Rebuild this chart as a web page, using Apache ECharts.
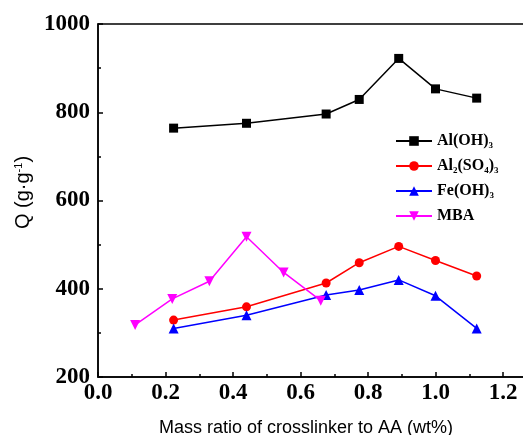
<!DOCTYPE html>
<html>
<head>
<meta charset="utf-8">
<script src="https://cdn.jsdelivr.net/npm/echarts@6/dist/echarts.min.js"></script>
<style>
  html, body { margin: 0; padding: 0; background: #fff; }
  #chart { width: 523px; height: 435px; }
</style>
</head>
<body>
<div id="chart"></div>
<script>
// 数据
var seriesNames = ["Al(OH)3", "Al2(SO4)3", "Fe(OH)3", "MBA"];
var xMetal = [0.224, 0.44, 0.676, 0.774, 0.891, 1.0, 1.122];
var alOH = [764, 775, 796, 829, 922, 853, 832];
var alSO4 = [329, 359, 413, 459, 496, 464, 429];
var feOH = [310, 340, 386, 397, 420, 384, 310];
var xMBA = [0.11, 0.22, 0.33, 0.44, 0.55, 0.66];
var mba = [318, 377, 417, 518, 437, 373];

function pairs(xs, ys) {
  return xs.map(function (x, i) { return [x, ys[i]]; });
}

var legendLabels = {
  "Al(OH)3": "{b|Al(OH)}{s|3}",
  "Al2(SO4)3": "{b|Al}{s|2}{b|(SO}{s|4}{b|)}{s|3}",
  "Fe(OH)3": "{b|Fe(OH)}{s|3}",
  "MBA": "{b|MBA}"
};

var myChart = echarts.init(document.getElementById("chart"));
var serif = "'Liberation Serif', 'Times New Roman', serif";
var sans = "'Liberation Sans', Arial, sans-serif";

var option = {
  animation: false,
  title: {
    text: "Mass ratio of crosslinker to AA (wt%)",
    left: 301,
    top: 414,
    textAlign: "center",
    textStyle: { fontFamily: sans, fontSize: 18, fontWeight: "normal", color: "#000" }
  },
  grid: {
    left: 98,
    top: 24,
    bottom: 58,
    right: -47.5,
    outerBoundsMode: "none",
    containLabel: false,
    show: true,
    borderColor: "#000",
    borderWidth: 1.5
  },
  legend: {
    left: 390,
    top: 128,
    orient: "vertical",
    itemWidth: 36,
    itemHeight: 12,
    itemGap: 8,
    data: seriesNames,
    formatter: function (name) { return legendLabels[name]; },
    textStyle: {
      rich: {
        b: { fontFamily: serif, fontWeight: "bold", fontSize: 16, color: "#000" },
        s: { fontFamily: serif, fontWeight: "bold", fontSize: 9, color: "#000", verticalAlign: "top", padding: [9, 0, 0, 0] }
      }
    }
  },
  xAxis: {
    type: "value",
    min: 0,
    max: 1.4,
    interval: 0.2,
    axisLine: { show: true, lineStyle: { color: "#000", width: 1.5 } },
    axisTick: { show: true, inside: true, length: 5, lineStyle: { color: "#000", width: 1.5 } },
    minorTick: { show: true, splitNumber: 2, length: 3, lineStyle: { color: "#000", width: 1.5 } },
    splitLine: { show: false },
    axisLabel: {
      margin: 5,
      fontFamily: serif,
      fontWeight: "bold",
      fontSize: 23,
      color: "#000",
      formatter: function (v) { return v.toFixed(1); }
    }
  },
  yAxis: {
    type: "value",
    min: 200,
    max: 1000,
    interval: 200,
    name: "Q (g·g{sup|-1})",
    nameLocation: "middle",
    nameGap: 64,
    nameTextStyle: {
      fontFamily: sans,
      fontSize: 20,
      color: "#000",
      padding: [0, 0, 0, 16],
      rich: {
        sup: { fontFamily: sans, fontSize: 11, color: "#000", verticalAlign: "bottom", padding: [0, 0, 9, 0] }
      }
    },
    axisLine: { show: true, lineStyle: { color: "#000", width: 1.5 } },
    axisTick: { show: true, inside: true, length: 5, lineStyle: { color: "#000", width: 1.5 } },
    minorTick: { show: true, splitNumber: 2, length: 3, lineStyle: { color: "#000", width: 1.5 } },
    splitLine: { show: false },
    axisLabel: {
      margin: 8,
      fontFamily: serif,
      fontWeight: "bold",
      fontSize: 23,
      color: "#000",
      formatter: function (v) { return String(v); }
    }
  },
  series: [
    {
      name: "Al(OH)3",
      type: "line",
      data: pairs(xMetal, alOH),
      symbol: "rect",
      symbolSize: 9,
      color: "#000000",
      lineStyle: { width: 1.5 }
    },
    {
      name: "Al2(SO4)3",
      type: "line",
      data: pairs(xMetal, alSO4),
      symbol: "circle",
      symbolSize: 9,
      color: "#ff0000",
      lineStyle: { width: 1.5 }
    },
    {
      name: "Fe(OH)3",
      type: "line",
      data: pairs(xMetal, feOH),
      symbol: "triangle",
      symbolSize: 10,
      color: "#0000ff",
      lineStyle: { width: 1.5 }
    },
    {
      name: "MBA",
      type: "line",
      data: pairs(xMBA, mba),
      symbol: "triangle",
      symbolRotate: 180,
      symbolSize: 10,
      color: "#ff00ff",
      lineStyle: { width: 1.5 }
    }
  ]
};
myChart.setOption(option);
</script>
</body>
</html>
